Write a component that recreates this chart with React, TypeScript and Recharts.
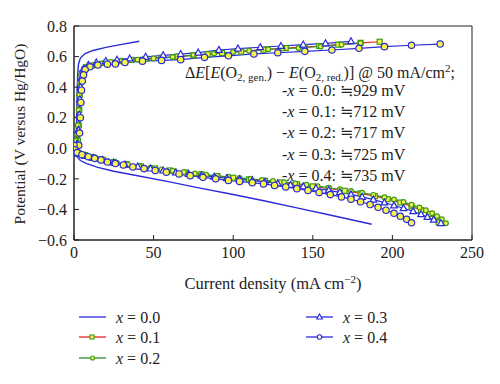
import React from "react";
import {
  LineChart,
  Line,
  XAxis,
  YAxis,
  ReferenceArea,
} from "recharts";

// [current density (mA cm-2), potential (V vs Hg/HgO)]
const x00Upper = [
  [1.2, 0.02], [1.5, 0.12], [1.8, 0.25], [2.0, 0.38], [2.3, 0.48], [2.8, 0.55],
  [4, 0.59], [7, 0.62], [12, 0.64], [20, 0.66], [30, 0.68], [41, 0.70],
];
const x00Lower = [
  [0, 0.02], [0.5, -0.02], [1.5, -0.05], [4, -0.08], [8, -0.1], [15, -0.125],
  [25, -0.15], [40, -0.18], [60, -0.22], [80, -0.262], [100, -0.302],
  [120, -0.345], [140, -0.39], [160, -0.435], [187, -0.497],
];

const x01Upper = [
  [2.5, 0.05], [3, 0.15], [3.3, 0.25], [3.6, 0.35], [4, 0.43], [5, 0.49],
  [6.5, 0.515], [8, 0.53], [11, 0.54], [15, 0.55], [20, 0.56], [28, 0.57],
  [36, 0.578], [45, 0.585], [55, 0.593], [65, 0.6], [75, 0.607], [84, 0.615],
  [93, 0.623], [105, 0.632], [119, 0.645], [133, 0.656], [145, 0.662],
  [154, 0.669], [166, 0.678], [180, 0.69], [192, 0.697],
];
const x01Lower = [
  [0, 0.03], [1, -0.01], [3, -0.03], [7, -0.045], [12, -0.06], [18, -0.075],
  [25, -0.09], [33, -0.104], [42, -0.118], [51, -0.132], [60, -0.145],
  [70, -0.158], [80, -0.17], [90, -0.182], [100, -0.193], [110, -0.203],
  [120, -0.213], [130, -0.224], [140, -0.236], [150, -0.249], [160, -0.263],
  [170, -0.278], [180, -0.295], [189, -0.313], [197, -0.333], [205, -0.355],
  [212, -0.38], [218, -0.405], [223, -0.43], [227, -0.455], [229, -0.485],
];

const x02Upper = [
  [1.5, 0.05], [2, 0.09], [2.5, 0.15], [3, 0.25], [3.4, 0.35], [3.8, 0.43],
  [4.5, 0.48], [6, 0.51], [8, 0.53], [12, 0.545], [17, 0.555], [23, 0.565],
  [30, 0.572], [40, 0.58], [50, 0.588], [62, 0.597], [75, 0.61], [88, 0.62],
  [100, 0.63], [110, 0.638], [122, 0.648], [131, 0.652], [141, 0.656],
  [155, 0.666], [168, 0.678], [180, 0.688],
];
const x02Lower = [
  [0, 0.02], [1, -0.015], [3, -0.035], [6, -0.05], [10, -0.06], [15, -0.072],
  [21, -0.085], [27, -0.096], [34, -0.107], [41, -0.118], [48, -0.128],
  [55, -0.138], [62, -0.147], [69, -0.156], [76, -0.165], [83, -0.173],
  [90, -0.18], [97, -0.187], [104, -0.194], [111, -0.2], [118, -0.207],
  [125, -0.214], [132, -0.222], [139, -0.23], [146, -0.239], [153, -0.248],
  [160, -0.258], [167, -0.268], [174, -0.279], [181, -0.291], [188, -0.305],
  [195, -0.32], [201, -0.335], [207, -0.352], [212, -0.37], [217, -0.388],
  [221, -0.406], [225, -0.425], [228, -0.445], [231, -0.465], [233.6, -0.49],
];

const x03Upper = [
  [2, 0.03], [2.8, 0.12], [3.3, 0.22], [3.7, 0.32], [4.1, 0.4], [4.6, 0.46],
  [6, 0.52], [9, 0.545], [14, 0.56], [20, 0.57], [27, 0.578], [35, 0.587],
  [45, 0.598], [56, 0.608], [67, 0.616], [78, 0.626], [91, 0.643],
  [103, 0.652], [117, 0.661], [130, 0.669], [144, 0.678], [158, 0.686],
  [174, 0.7],
];
const x03Lower = [
  [0, 0.01], [1, -0.02], [3, -0.035], [7, -0.05], [12, -0.063], [18, -0.078],
  [25, -0.094], [32, -0.107], [40, -0.12], [48, -0.133], [56, -0.146],
  [64, -0.158], [72, -0.169], [80, -0.178], [88, -0.187], [96, -0.196],
  [104, -0.204], [112, -0.212], [120, -0.22], [128, -0.23], [136, -0.24],
  [144, -0.25], [152, -0.262], [160, -0.275], [167, -0.288], [174, -0.302],
  [181, -0.318], [188, -0.336], [195, -0.355], [201, -0.374], [207, -0.392],
  [213, -0.412], [218, -0.432], [222, -0.45], [226, -0.468], [230.5, -0.49],
];

const x04Upper = [
  [3, 0.02], [3.5, 0.1], [4, 0.2], [4.3, 0.3], [4.7, 0.38], [5.2, 0.44],
  [6, 0.48], [7, 0.515], [10, 0.533], [15, 0.545], [21, 0.55], [26, 0.552],
  [32, 0.562], [43, 0.57], [55, 0.575], [67, 0.58], [82, 0.595], [97, 0.605],
  [113, 0.617], [128, 0.625], [145, 0.634], [162, 0.643], [179, 0.654],
  [195, 0.665], [212, 0.674], [230, 0.682],
];
const x04Lower = [
  [0, 0.02], [0.5, -0.01], [2, -0.028], [5, -0.042], [9, -0.055], [13, -0.066],
  [17, -0.076], [21, -0.09], [26, -0.1], [31, -0.109], [37, -0.122],
  [44, -0.133], [51, -0.145], [58, -0.156], [66, -0.168], [73, -0.179],
  [81, -0.19], [89, -0.2], [97, -0.21], [104, -0.217], [112, -0.225],
  [119, -0.233], [126, -0.243], [133, -0.253], [140, -0.264], [147, -0.276],
  [154, -0.289], [161, -0.303], [168, -0.318], [174, -0.333], [180, -0.35],
  [186, -0.368], [191, -0.386], [196, -0.405], [201, -0.425], [205, -0.445],
  [209, -0.465], [212, -0.487],
];

const xTicks = [0, 50, 100, 150, 200, 250];
const yTicks = [-0.6, -0.4, -0.2, 0, 0.2, 0.4, 0.6, 0.8];
const deltaE = ["929", "712", "717", "725", "735"];
const compositions = ["0.0", "0.1", "0.2", "0.3", "0.4"];

const BLUE = "#2a2ad8";
const RED = "#e8262a";
const GREEN = "#2f8f2f";
const MARK_GREEN = "#3a9a1a";
const YELLOW = "#f7f548";
const FONT = '"Liberation Serif", "DejaVu Serif", serif';

// upper branch walked back down, then the lower branch outwards
const toSeries = (upper: number[][], lower: number[][]) =>
  [...upper].reverse().concat(lower).map(([i, v]) => ({ i, v }));

const series00 = toSeries(x00Upper, x00Lower);
const series01 = toSeries(x01Upper, x01Lower);
const series02 = toSeries(x02Upper, x02Lower);
const series03 = toSeries(x03Upper, x03Lower);
const series04 = toSeries(x04Upper, x04Lower);

const SquareMark = ({ cx, cy }: any) => (
  <rect x={cx - 2.5} y={cy - 2.5} width={5} height={5} fill={YELLOW} stroke={MARK_GREEN} strokeWidth={1.2} />
);
const SmallCircleMark = ({ cx, cy }: any) => (
  <circle cx={cx} cy={cy} r={2.4} fill={YELLOW} stroke={MARK_GREEN} strokeWidth={1.2} />
);
const TriangleMark = ({ cx, cy, fill = "#fff" }: any) => (
  <polygon
    points={`${cx},${cy - 3.6} ${cx + 3.3},${cy + 2.4} ${cx - 3.3},${cy + 2.4}`}
    fill={fill}
    stroke={BLUE}
    strokeWidth={1.2}
  />
);
const CircleMark = ({ cx, cy, r = 3.2, fill = YELLOW }: any) => (
  <circle cx={cx} cy={cy} r={r} fill={fill} stroke={BLUE} strokeWidth={1.2} />
);

const dotSquare = (p: any) => <SquareMark key={`s-${p.index}`} cx={p.cx} cy={p.cy} />;
const dotSmallCircle = (p: any) => <SmallCircleMark key={`g-${p.index}`} cx={p.cx} cy={p.cy} />;
const dotTriangle = (p: any) => <TriangleMark key={`t-${p.index}`} cx={p.cx} cy={p.cy} />;
const dotCircle = (p: any) => <CircleMark key={`c-${p.index}`} cx={p.cx} cy={p.cy} />;

const fmtY = (v: number) => (v < 0 ? "\u2212" + Math.abs(v).toFixed(1) : v.toFixed(1));

const YLabel = () => (
  <text x={25} y={134} transform="rotate(-90, 25, 134)" textAnchor="middle" fontSize={15.5} fontFamily={FONT} fill="#222">
    Potential (V versus Hg/HgO)
  </text>
);

const XLabel = () => (
  <text x={273} y={289} textAnchor="middle" fontSize={16.5} fontFamily={FONT} fill="#222">
    <tspan>Current density (mA cm</tspan>
    <tspan fontSize={11} dy={-6}>{"\u22122"}</tspan>
    <tspan dy={6}>)</tspan>
  </text>
);

const legendItems = [
  { label: "0.0", color: BLUE, mark: null, x: 79, y: 317 },
  { label: "0.1", color: RED, mark: "square", x: 79, y: 337 },
  { label: "0.2", color: GREEN, mark: "smallCircle", x: 79, y: 358 },
  { label: "0.3", color: BLUE, mark: "triangle", x: 306, y: 317 },
  { label: "0.4", color: BLUE, mark: "circle", x: 306, y: 337 },
];

const Overlay = () => (
  <svg width={500} height={384} style={{ position: "absolute", left: 0, top: 0, pointerEvents: "none" }}>
    <g fontFamily={FONT} fontSize={16} fill="#222">
      <text x={185} y={78}>
        <tspan>Δ</tspan>
        <tspan fontStyle="italic">E</tspan>
        <tspan>[</tspan>
        <tspan fontStyle="italic">E</tspan>
        <tspan>(O</tspan>
        <tspan fontSize={11} dy={3}>2, gen.</tspan>
        <tspan dy={-3}>{") \u2212 "}</tspan>
        <tspan fontStyle="italic">E</tspan>
        <tspan>(O</tspan>
        <tspan fontSize={11} dy={3}>2, red.</tspan>
        <tspan dy={-3}>{")] @ 50 mA/cm"}</tspan>
        <tspan fontSize={11} dy={-6}>2</tspan>
        <tspan dy={6}>;</tspan>
      </text>
      {compositions.map((c, k) => (
        <text key={c} x={282} y={96 + k * 21.2}>
          <tspan>-</tspan>
          <tspan fontStyle="italic">x</tspan>
          <tspan>{` = ${c}: \u2252${deltaE[k]} mV`}</tspan>
        </text>
      ))}
      {legendItems.map((it) => (
        <g key={it.label}>
          <line x1={it.x} x2={it.x + 27} y1={it.y} y2={it.y} stroke={it.color} strokeWidth={1.3} />
          {it.mark === "square" && <rect x={it.x + 11} y={it.y - 2} width={4} height={4} fill={YELLOW} stroke={MARK_GREEN} strokeWidth={1.1} />}
          {it.mark === "smallCircle" && <circle cx={it.x + 13.5} cy={it.y} r={2} fill={YELLOW} stroke={MARK_GREEN} strokeWidth={1.1} />}
          {it.mark === "triangle" && (
            <polygon
              points={`${it.x + 13.5},${it.y - 3} ${it.x + 16.3},${it.y + 2} ${it.x + 10.7},${it.y + 2}`}
              fill="#fff"
              stroke={BLUE}
              strokeWidth={1.1}
            />
          )}
          {it.mark === "circle" && <circle cx={it.x + 13.5} cy={it.y} r={2.2} fill="#fff" stroke={BLUE} strokeWidth={1.1} />}
          <text x={it.x + 37} y={it.y + 5.5}>
            <tspan fontStyle="italic">x</tspan>
            <tspan>{` = ${it.label}`}</tspan>
          </text>
        </g>
      ))}
    </g>
  </svg>
);

export default function App() {
  return (
    <div style={{ position: "relative", width: 500, height: 384, background: "#fff" }}>
      <style>{"body{margin:0}"}</style>
      <LineChart width={500} height={384} margin={{ top: 26, right: 28, bottom: 0, left: 0 }}>
        <XAxis
          type="number"
          dataKey="i"
          domain={[0, 250]}
          ticks={xTicks}
          allowDataOverflow
          height={144}
          tickSize={-5}
          tickMargin={12}
          stroke="#222"
          tick={{ fill: "#222", fontSize: 16, fontFamily: FONT }}
          label={XLabel}
        />
        <YAxis
          type="number"
          dataKey="v"
          domain={[-0.6, 0.8]}
          ticks={yTicks}
          allowDataOverflow
          width={74}
          tickSize={-5}
          tickMargin={12}
          tickFormatter={fmtY}
          stroke="#222"
          tick={{ fill: "#222", fontSize: 16, fontFamily: FONT }}
          label={YLabel}
        />
        <ReferenceArea x1={0} x2={250} y1={-0.6} y2={0.8} fill="none" stroke="#222" strokeWidth={1} ifOverflow="visible" />
        <Line data={series00} dataKey="v" stroke={BLUE} strokeWidth={1.4} dot={false} isAnimationActive={false} />
        <Line data={series01} dataKey="v" stroke={RED} strokeWidth={1.2} dot={dotSquare} isAnimationActive={false} />
        <Line data={series02} dataKey="v" stroke={GREEN} strokeWidth={1.2} dot={dotSmallCircle} isAnimationActive={false} />
        <Line data={series03} dataKey="v" stroke={BLUE} strokeWidth={1.2} dot={dotTriangle} isAnimationActive={false} />
        <Line data={series04} dataKey="v" stroke={BLUE} strokeWidth={1.2} dot={dotCircle} isAnimationActive={false} />
      </LineChart>
      <Overlay />
    </div>
  );
}
